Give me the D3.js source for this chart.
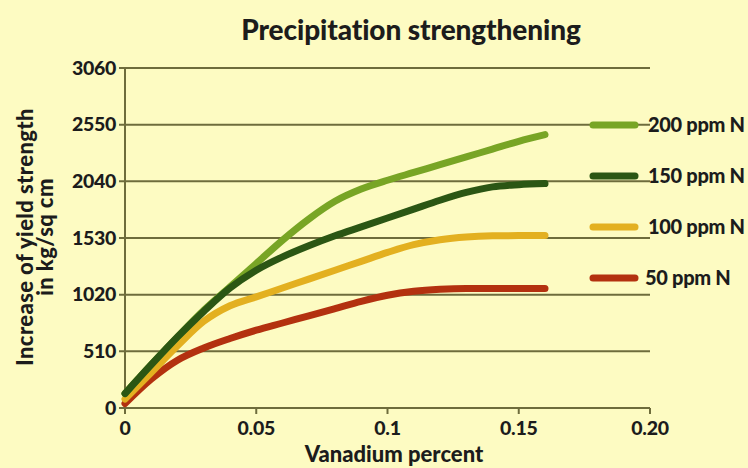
<!DOCTYPE html>
<html><head><meta charset="utf-8">
<script src="https://cdn.jsdelivr.net/npm/d3@7"></script>
<style>html,body{margin:0;padding:0;background:#fdfbc2;}svg{display:block;}</style>
</head><body>
<svg id="c" width="748" height="468"></svg>
<script>
const vanadium = [0, 0.01, 0.02, 0.03, 0.04, 0.05, 0.06, 0.07, 0.08, 0.09, 0.10, 0.11, 0.12, 0.13, 0.14, 0.15, 0.16];
const n200 = [130, 390, 640, 880, 1090, 1300, 1510, 1700, 1860, 1970, 2050, 2120, 2190, 2260, 2330, 2400, 2460];
const n150 = [130, 390, 640, 870, 1080, 1240, 1360, 1460, 1550, 1630, 1710, 1790, 1870, 1940, 1990, 2010, 2020];
const n100 = [80, 320, 560, 780, 920, 1000, 1080, 1160, 1240, 1320, 1400, 1470, 1515, 1540, 1550, 1552, 1552];
const n50  = [40, 260, 430, 540, 625, 700, 765, 830, 895, 960, 1015, 1050, 1068, 1075, 1075, 1075, 1075];
const seriesNames = ["200 ppm N", "150 ppm N", "100 ppm N", "50 ppm N"];
const seriesColors = ["#78a525", "#2b5614", "#e3b020", "#b3310f"];
const yTicks = [0, 510, 1020, 1530, 2040, 2550, 3060];
const xTicks = [0, 0.05, 0.1, 0.15, 0.20];
const xTickLabels = ["0", "0.05", "0.1", "0.15", "0.20"];

const seriesValues = [n200, n150, n100, n50];
const svg = d3.select("#c");
const font = "Lato, 'Open Sans', sans-serif";
const x = d3.scaleLinear().domain([0, 0.20]).range([125, 650]);
const y = d3.scaleLinear().domain([0, 3060]).range([408, 68]);
const grid = "#6e6c3c";
const ink = "#1c1c1c";

svg.append("rect").attr("width", 748).attr("height", 468).attr("fill", "#fdfbc2");

// gridlines
svg.append("g").selectAll("line").data(yTicks).join("line")
  .attr("x1", x(0) - 6).attr("x2", x(0.20)).attr("y1", d => y(d)).attr("y2", d => y(d))
  .attr("stroke", grid).attr("stroke-width", 2);
// y axis line
svg.append("line").attr("x1", x(0)).attr("x2", x(0)).attr("y1", y(0)).attr("y2", y(3060))
  .attr("stroke", grid).attr("stroke-width", 2);
// x ticks
svg.append("g").selectAll("line").data(xTicks).join("line")
  .attr("x1", d => x(d)).attr("x2", d => x(d)).attr("y1", y(0)).attr("y2", y(0) + 6)
  .attr("stroke", grid).attr("stroke-width", 2);

function bold(sel, size) {
  return sel.attr("font-family", font).attr("font-weight", 900)
    .attr("font-size", size).attr("fill", ink);
}

// y tick labels
bold(svg.append("g").selectAll("text").data(yTicks).join("text")
  .attr("x", x(0) - 9).attr("y", d => y(d)).attr("dy", "0.35em")
  .attr("text-anchor", "end"), 19.5).attr("letter-spacing", -0.3).text(d => d);
// x tick labels
bold(svg.append("g").selectAll("text").data(xTicks).join("text")
  .attr("x", d => x(d)).attr("y", 435)
  .attr("text-anchor", "middle"), 19.5).attr("letter-spacing", -0.3).text((d, i) => xTickLabels[i]);

// titles
bold(svg.append("text").attr("x", 411).attr("y", 40).attr("text-anchor", "middle"), 28)
  .attr("letter-spacing", -0.1).text("Precipitation strengthening");
bold(svg.append("text").attr("x", 394).attr("y", 462).attr("text-anchor", "middle"), 22)
  .text("Vanadium percent");
const yt = bold(svg.append("text").attr("transform", "translate(33,237) rotate(-90)")
  .attr("text-anchor", "middle"), 22).attr("letter-spacing", 0.4);
yt.append("tspan").attr("x", 0).attr("dy", 0).text("Increase of yield strength");
yt.append("tspan").attr("x", 0).attr("dy", 20).text("in kg/sq cm");

// lines (drawn back to front)
const line = d3.line().x(d => x(d[0])).y(d => y(d[1])).curve(d3.curveMonotoneX);
const order = [3, 2, 0, 1];
svg.append("g").selectAll("path").data(order).join("path")
  .attr("d", i => line(vanadium.map((v, k) => [v, seriesValues[i][k]])))
  .attr("fill", "none").attr("stroke", i => seriesColors[i])
  .attr("stroke-width", 7).attr("stroke-linecap", "round").attr("stroke-linejoin", "round");

// legend
const lg = svg.append("g").selectAll("g").data(seriesNames).join("g")
  .attr("transform", (d, i) => `translate(593,${125 + i * 51})`);
lg.append("line").attr("x1", 0).attr("x2", 42).attr("y1", 0).attr("y2", 0)
  .attr("stroke", (d, i) => seriesColors[i]).attr("stroke-width", 7).attr("stroke-linecap", "round");
bold(lg.append("text").attr("x", (d, i) => i === 3 ? 52 : 55).attr("y", 0).attr("dy", "0.35em"), 20)
  .attr("letter-spacing", -0.3).text(d => d);
</script>
</body></html>
